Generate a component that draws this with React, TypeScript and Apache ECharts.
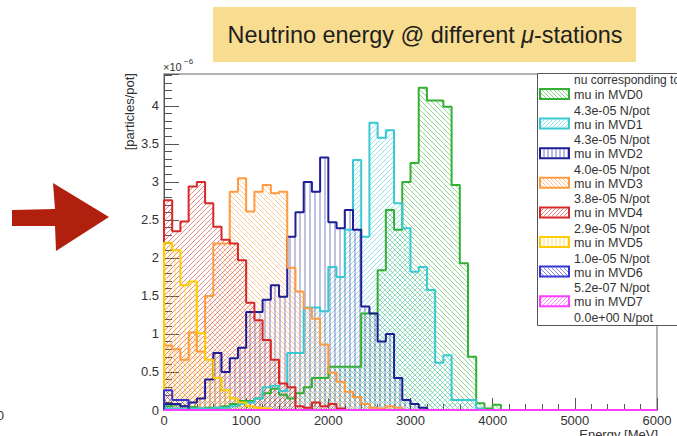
import React, { useEffect, useRef } from 'react';
import * as echarts from 'echarts';

// ---- data (values in units of 1e-6 particles/pot, 100 MeV bins starting at 0) ----
const binWidth = 100;
const nBins = 60;
const mvd0 = [0.05, 0.07, 0.05, 0.04, 0.02, 0.03, 0.03, 0.05, 0.08, 0.12,
  0.12, 0.15, 0.22, 0.28, 0.2, 0.15, 0.22, 0.3, 0.42, 0.42,
  0.57, 0.57, 0.57, 0.57, 1.27, 1.27, 1.84, 2.63, 2.37, 3.0,
  3.25, 4.24, 4.07, 4.07, 3.99, 2.96, 1.93, 0.7, 0.09, 0.02, 0.07];
const mvd1 = [0.02, 0.02, 0.01, 0.02, 0.02, 0.02, 0.03, 0.03, 0.05, 0.08,
  0.1, 0.15, 0.3, 0.32, 0.25, 0.75, 0.75, 1.35, 1.35, 1.3,
  1.88, 1.75, 2.37, 3.29, 2.28, 3.78, 3.58, 3.68, 2.72, 2.39,
  1.82, 1.88, 1.58, 0.62, 0.72, 0.13, 0.13, 0.13, 0.02];
const mvd2 = [0.08, 0.08, 0.05, 0.1, 0.15, 0.4, 0.75, 0.5, 0.68, 0.82,
  1.29, 1.29, 1.45, 1.64, 1.49, 2.28, 2.6, 3.0, 2.87, 3.32,
  2.47, 2.39, 2.63, 2.37, 1.36, 1.27, 0.9, 1.0, 0.42, 0.13, 0.08, 0.03];
const mvd3 = [0.85, 0.8, 0.66, 1.02, 0.77, 1.5, 2.19, 2.19, 2.87, 3.05,
  2.61, 2.87, 2.96, 2.85, 2.87, 1.87, 1.56, 1.34, 1.2, 0.86,
  0.49, 0.37, 0.24, 0.17, 0.08, 0.03, 0.02, 0.05, 0.03];
const mvd4 = [2.76, 2.35, 2.48, 2.94, 3.0, 2.72, 2.41, 2.24, 2.19, 1.97,
  1.41, 1.18, 0.92, 0.66, 0.35, 0.3, 0.05, 0.03, 0.1, 0.05, 0.08, 0.02];
const mvd5 = [2.2, 2.1, 1.64, 1.69, 1.01, 0.66, 0.42, 0.26, 0.15, 0.1, 0.05, 0.03, 0.02];
const mvd6 = [0.26, 0.13, 0.13];
const mvd7: number[] = [];

const seriesNames = ['mu in MVD0', 'mu in MVD1', 'mu in MVD2', 'mu in MVD3', 'mu in MVD4', 'mu in MVD5', 'mu in MVD6', 'mu in MVD7'];
const seriesNorms = ['4.3e-05 N/pot', '4.3e-05 N/pot', '4.0e-05 N/pot', '3.8e-05 N/pot', '2.9e-05 N/pot', '1.0e-05 N/pot', '5.2e-07 N/pot', '0.0e+00 N/pot'];
const legendHeader = 'nu corresponding to';
const titleText = 'Neutrino energy @ different {i|μ}-stations';
const yTitle = '[particles/pot]';
const xTitle = 'Energy [MeV]';

const allSeries = [mvd0, mvd1, mvd2, mvd3, mvd4, mvd5, mvd6, mvd7];
const COLORS = ['#33b033', '#38c9d3', '#1e1e96', '#ff9a40', '#d62828', '#ffcc00', '#3535d0', '#ff3cff'];
const HATCH = ['b', 'f', 'v', 'b', 'f', 'v', 'b', 'f'];
const FONT = '"Liberation Sans", Arial, Helvetica, sans-serif';

function hatchSegs(x0: number, y0: number, x1: number, y1: number, kind: string, s: number) {
  const out: number[][] = [];
  if (x1 - x0 < 0.5 || y1 - y0 < 0.5) return out;
  if (kind === 'v') {
    for (let x = Math.ceil(x0 / s) * s; x <= x1; x += s) out.push([x, y0, x, y1]);
  } else if (kind === 'f') {
    for (let c = Math.ceil((x0 + y0) / s) * s; c <= x1 + y1; c += s) {
      const xa = Math.max(x0, c - y1), xb = Math.min(x1, c - y0);
      if (xb > xa) out.push([xa, c - xa, xb, c - xb]);
    }
  } else {
    for (let c = Math.ceil((y0 - x1) / s) * s; c <= y1 - x0; c += s) {
      const xa = Math.max(x0, y0 - c), xb = Math.min(x1, y1 - c);
      if (xb > xa) out.push([xa, xa + c, xb, xb + c]);
    }
  }
  return out;
}

export default function App() {
  const ref = useRef<HTMLDivElement>(null);
  useEffect(() => {
    if (!ref.current) return;
    const chart = echarts.init(ref.current, null, { renderer: 'svg' });
    const series: any[] = [];
    allSeries.forEach((vals, i) => {
      const hist = vals.map((v, k) => [k * binWidth, (k + 1) * binWidth, v]).filter((d) => d[2] > 0);
      series.push({
        type: 'custom',
        name: seriesNames[i] + ' fill',
        coordinateSystem: 'cartesian2d',
        data: hist,
        encode: { x: [0, 1], y: 2 },
        z: 2,
        silent: true,
        clip: true,
        renderItem: (params: any, api: any) => {
          const a = api.coord([api.value(0), api.value(2)]);
          const b = api.coord([api.value(1), 0]);
          const segs = hatchSegs(a[0], a[1], b[0], b[1], HATCH[i], 5);
          return {
            type: 'group',
            children: segs.map(([x1, y1, x2, y2]) => ({
              type: 'line',
              shape: { x1, y1, x2, y2 },
              style: { stroke: COLORS[i], lineWidth: 1, opacity: 0.55 },
            })),
          };
        },
      });
    });
    allSeries.forEach((vals, i) => {
      const pts: number[][] = [[0, 0]];
      for (let k = 0; k < nBins; k++) pts.push([k * binWidth, vals[k] || 0]);
      pts.push([nBins * binWidth, vals[nBins - 1] || 0]);
      pts.push([nBins * binWidth, 0]);
      series.push({
        type: 'line',
        name: seriesNames[i],
        data: pts,
        step: 'end',
        symbol: 'none',
        showSymbol: false,
        clip: false,
        silent: true,
        z: 3 + i * 0.01,
        lineStyle: { color: COLORS[i], width: 2 },
      });
    });

    const legendEls: any[] = [];
    legendEls.push({
      type: 'rect', shape: { x: 537.5, y: 73.5, width: 160, height: 252 },
      style: { fill: '#fff', stroke: '#555', lineWidth: 1 }, z: 100,
    });
    legendEls.push({
      type: 'text', x: 574, y: 80, z: 101,
      style: { text: legendHeader, fill: '#333', font: '12px ' + FONT, align: 'left', verticalAlign: 'middle' },
    });
    seriesNames.forEach((nm, i) => {
      const yc = 95 + i * 29.6;
      const sx0 = 540, sy0 = yc - 6, sw = 29, sh = 10;
      hatchSegs(sx0 + 1, sy0 + 1, sx0 + sw - 1, sy0 + sh - 1, HATCH[i], 4).forEach(([x1, y1, x2, y2]) => {
        legendEls.push({ type: 'line', z: 101, shape: { x1, y1, x2, y2 }, style: { stroke: COLORS[i], lineWidth: 1, opacity: 0.6 } });
      });
      legendEls.push({
        type: 'rect', z: 102, shape: { x: sx0, y: sy0, width: sw, height: sh },
        style: { fill: 'none', stroke: COLORS[i], lineWidth: 2 },
      });
      legendEls.push({
        type: 'text', x: 574, y: yc, z: 101,
        style: { text: nm, fill: '#333', font: '12.5px ' + FONT, align: 'left', verticalAlign: 'middle' },
      });
      legendEls.push({
        type: 'text', x: 574, y: yc + 15.5, z: 101,
        style: { text: seriesNorms[i], fill: '#333', font: '12.5px ' + FONT, align: 'left', verticalAlign: 'middle' },
      });
    });

    const option: any = {
      animation: false,
      backgroundColor: '#ffffff',
      grid: { left: 164, right: 20, top: 74, bottom: 26, show: true, borderColor: '#999', borderWidth: 1.5, backgroundColor: 'transparent' },
      xAxis: {
        type: 'value', min: 0, max: 6000, interval: 1000,
        axisLine: { show: true, onZero: false, lineStyle: { color: '#555', width: 1 } },
        axisTick: { show: true, inside: true, length: 12, lineStyle: { color: '#555' } },
        minorTick: { show: true, splitNumber: 5, length: 6, lineStyle: { color: '#555' } },
        splitLine: { show: false },
        axisLabel: { color: '#333', fontSize: 13, fontFamily: FONT, margin: 4, formatter: (v: number) => String(v) },
      },
      yAxis: {
        type: 'value', min: 0, max: 4.42, interval: 0.5,
        axisLine: { show: true, onZero: false, lineStyle: { color: '#555', width: 1 } },
        axisTick: { show: true, inside: true, length: 15, lineStyle: { color: '#555' } },
        minorTick: { show: true, splitNumber: 5, length: 8, lineStyle: { color: '#555' } },
        splitLine: { show: false },
        axisLabel: { color: '#333', fontSize: 13, fontFamily: FONT, margin: 5, showMaxLabel: false },
      },
      series,
      graphic: [
        {
          type: 'rect', shape: { x: 213, y: 7, width: 423, height: 55 },
          style: { fill: '#f8dc90' }, z: 50,
        },
        {
          type: 'text', x: 425, y: 35, z: 51,
          style: {
            text: titleText, fill: '#1e1e1e', font: '23.4px ' + FONT, align: 'center', verticalAlign: 'middle',
            rich: { i: { fontStyle: 'italic', fontSize: 23.4, fontFamily: FONT, fill: '#1e1e1e' } },
          },
        },
        {
          type: 'polygon', z: 50,
          shape: { points: [[12, 210], [55, 209], [53, 183], [109, 217], [56, 251], [55, 226], [12, 226]] },
          style: { fill: '#b1200f' },
        },
        {
          type: 'text', x: 4, y: 415, z: 50,
          style: { text: '0', fill: '#333', font: '13px ' + FONT, align: 'right', verticalAlign: 'middle' },
        },
        {
          type: 'text', x: 129, y: 73, rotation: Math.PI / 2, z: 50,
          style: { text: yTitle, fill: '#333', font: '13px ' + FONT, align: 'right', verticalAlign: 'middle' },
        },
        {
          type: 'text', x: 163, y: 67, z: 50,
          style: { text: '×10', fill: '#333', font: '11px ' + FONT, align: 'left', verticalAlign: 'middle' },
        },
        {
          type: 'text', x: 184, y: 61, z: 50,
          style: { text: '−6', fill: '#333', font: '8px ' + FONT, align: 'left', verticalAlign: 'middle' },
        },
        {
          type: 'text', x: 658, y: 434, z: 50,
          style: { text: xTitle, fill: '#333', font: '13px ' + FONT, align: 'right', verticalAlign: 'middle' },
        },
        ...legendEls,
      ],
    };
    chart.setOption(option);
    return () => chart.dispose();
  }, []);
  return (
    <div
      ref={ref}
      style={{ position: 'fixed', left: 0, top: 0, width: 677, height: 436, background: '#fff' }}
    />
  );
}
